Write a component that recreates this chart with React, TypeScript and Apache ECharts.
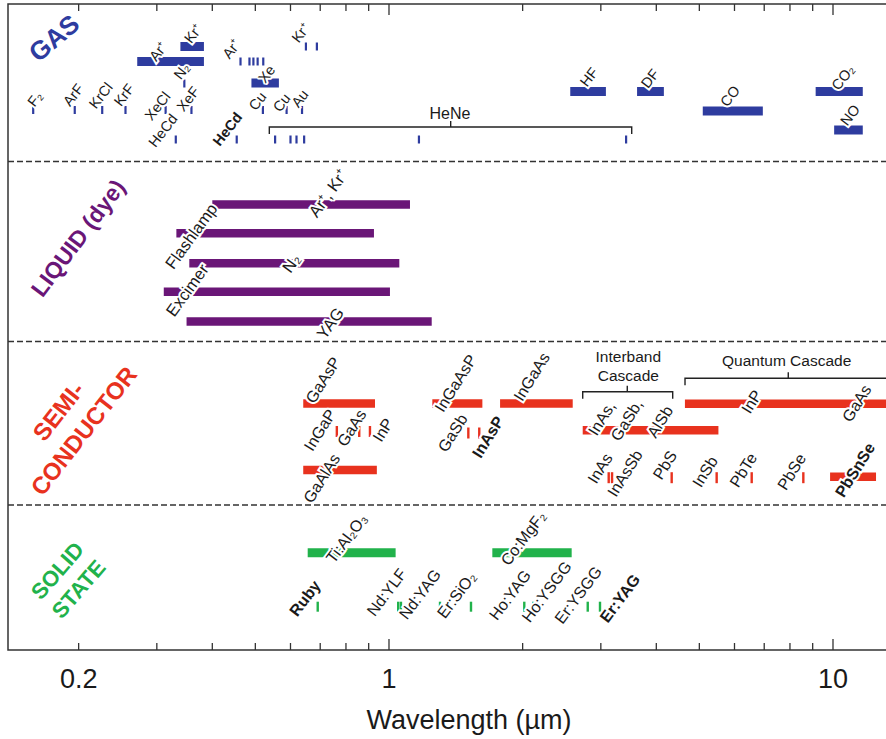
import React, { useEffect, useRef } from 'react';
import * as echarts from 'echarts';

// ---------- axis ----------
const X_MIN = 0.13865;
const X_MAX = 14.155;
const Y_TOP = 4;
const Y_BOTTOM = 650;
const AXIS_TICKS = [0.2, 0.3, 0.4, 0.5, 0.6, 0.7, 0.8, 0.9, 1, 2, 3, 4, 5, 6, 7, 8, 9, 10];
const MAJOR_TICKS = [1, 10];
const TICK_LABELS = [0.2, 1, 10];
const SEPARATORS = [161.5, 341.5, 505];

// ---------- GAS ----------
// [start µm, end µm, row]
const GAS_BARS: [number, number, number][] = [
  [0.271, 0.383, 61.5], [0.339, 0.383, 46.5], [0.49, 0.565, 83],
  [2.56, 3.08, 91.5], [3.62, 4.16, 91.5], [5.09, 6.95, 111],
  [9.14, 11.67, 91.5], [10.06, 11.67, 130],
];
// [µm, row]
const GAS_LINES: [number, number][] = [
  [0.158, 110], [0.196, 110], [0.226, 110], [0.255, 110], [0.314, 110], [0.359, 110],
  [0.52, 110], [0.588, 110], [0.637, 110],
  [0.346, 83.5],
  [0.463, 61.5], [0.485, 61.5], [0.495, 61.5], [0.506, 61.5], [0.521, 61.5],
  [0.65, 46.5], [0.688, 46.5],
  [0.331, 139.5], [0.454, 139.5],
  [0.554, 139.5], [0.6, 139.5], [0.619, 139.5], [0.644, 139.5], [1.168, 139.5], [3.42, 139.5],
];
// [text, µm, row]
const GAS_LABELS: [string, number, number][] = [
  ['F₂', 0.1595, 99], ['ArF', 0.1945, 95], ['KrCl', 0.2243, 95.5], ['KrF', 0.2532, 95],
  ['XeCl', 0.3011, 106], ['XeF', 0.3526, 99], ['N₂', 0.3412, 71], ['Ar⁺', 0.3023, 51.5],
  ['Kr⁺', 0.3624, 33.5], ['Ar⁺', 0.442, 49], ['Kr⁺', 0.6327, 33], ['Xe', 0.5303, 74],
  ['Cu', 0.5056, 101], ['Cu', 0.5731, 102.5], ['Au', 0.6301, 98.5], ['HeCd', 0.3097, 130.5],
  ['HeCd', 0.4327, 129], ['HF', 2.821, 77], ['DF', 3.872, 78.5], ['CO', 5.861, 96],
  ['CO₂', 10.53, 77.5], ['NO', 10.92, 115],
];
// [start, end, centre, row]
const GAS_BRACKETS: [number, number, number, number][] = [[0.5376, 3.521, 1.377, 127]];
const GAS_TEXTS: [string, number, number][] = [['HeNe', 1.372, 113]];

// ---------- LIQUID (dye) ----------
const DYE_BARS: [number, number, number][] = [
  [0.4, 1.115, 204.5], [0.332, 0.925, 233.3], [0.355, 1.055, 263.3],
  [0.311, 1.005, 291.8], [0.35, 1.248, 321.5],
];
const DYE_LABELS: [string, number, number][] = [
  ['Ar⁺, Kr⁺', 0.7289, 193], ['Flashlamp', 0.3582, 236], ['N₂', 0.6014, 263],
  ['Excimer', 0.3508, 290], ['YAG', 0.7364, 323],
];

// ---------- SEMICONDUCTOR ----------
const SEMI_BARS: [number, number, number][] = [
  [0.641, 0.93, 403.5], [1.252, 1.623, 403.5], [1.779, 2.593, 403.5], [4.64, 20, 403.8],
  [2.731, 5.52, 430.2], [0.641, 0.939, 470], [9.85, 12.5, 476.7],
];
const SEMI_LINES: [number, number][] = [
  [0.763, 431.5], [0.857, 431.5], [0.906, 431.5], [1.509, 433], [1.597, 433],
  [3.125, 477.7], [3.18, 477.7], [4.332, 477.7], [5.47, 477.7], [6.56, 477.7], [8.574, 477.7],
];
const SEMI_LABELS: [string, number, number][] = [
  ['GaAsP', 0.7101, 380], ['InGaP', 0.6991, 430], ['GaAs', 0.824, 428], ['InP', 0.9694, 430],
  ['GaAlAs', 0.7053, 478.3], ['InGaAsP', 1.413, 383.3], ['GaSb', 1.391, 433], ['InAsP', 1.671, 437],
  ['InGaAs', 2.096, 376.7], ['InAs,', 3.013, 418.3], ['GaSb,', 3.431, 420], ['AlSb', 4.077, 421.7],
  ['InP', 6.56, 401.7], ['GaAs', 11.31, 403.3], ['InAs', 2.987, 468.3], ['InAsSb', 3.4, 473.3],
  ['PbS', 4.183, 465], ['InSb', 5.148, 471.7], ['PbTe', 6.281, 470], ['PbSe', 8.072, 471.7],
  ['PbSnSe', 11.21, 470],
];
const SEMI_BRACKETS: [number, number, number, number][] = [
  [2.731, 4.355, 3.441, 391.7], [4.642, 20, 7.93, 378.3],
];
const SEMI_TEXTS: [string, number, number][] = [
  ['Interband\nCascade', 3.459, 366], ['Quantum Cascade', 7.865, 360.7],
];

// ---------- SOLID STATE ----------
const SOLID_BARS: [number, number, number][] = [[0.656, 1.035, 552.8], [1.709, 2.579, 552.8]];
const SOLID_LINES: [number, number][] = [
  [0.691, 606.7], [1.049, 606.7], [1.064, 606.7], [1.303, 606.7], [1.53, 606.7],
  [2.017, 606.7], [2.114, 606.7], [2.803, 606.7], [2.987, 606.7],
];
const SOLID_LABELS: [string, number, number][] = [
  ['Ti:Al₂O₃', 0.8028, 538.3], ['Co:MgF₂', 2.006, 538.3], ['Ruby', 0.6467, 598.3],
  ['Nd:YLF', 0.9881, 592.3], ['Nd:YAG', 1.174, 594.3], ['Er:SiO₂', 1.42, 595],
  ['Ho:YAG', 1.873, 595], ['Ho:YSGG', 2.266, 591.7], ['Er:YSGG', 2.669, 595],
  ['Er:YAG', 3.314, 598.3],
];

const BOLD_LABELS = new Set(['HeCd@0.4327', 'InAsP@1.671', 'PbSnSe@11.21', 'Ruby@0.6467', 'Er:YAG@3.314']);

const FONT = "'Liberation Sans', Arial, Helvetica, sans-serif";
const BLUE = '#2e3c9f';
const PURPLE = '#6a1677';
const RED = '#e8321e';
const GREEN = '#21b24b';
const INK = '#1a1a1a';
const deg = (d: number) => (d * Math.PI) / 180;

function barSeries(data: [number, number, number][], color: string, h: number) {
  return {
    type: 'custom', coordinateSystem: 'cartesian2d', z: 2,
    data: data.map((d) => [d[0], d[1], d[2]]),
    encode: { x: [0, 1], y: 2 },
    renderItem: (params: any, api: any) => {
      const p0 = api.coord([api.value(0), api.value(2)]);
      const p1 = api.coord([api.value(1), api.value(2)]);
      const cs = params.coordSys;
      const x1 = Math.min(p1[0], cs.x + cs.width);
      return { type: 'rect', shape: { x: p0[0], y: p0[1] - h / 2, width: x1 - p0[0], height: h }, style: { fill: color } };
    },
  };
}

function lineSeries(data: [number, number][], color: string, w: number, h: number) {
  return {
    type: 'custom', coordinateSystem: 'cartesian2d', z: 2,
    data: data.map((d) => [d[0], d[1]]),
    encode: { x: 0, y: 1 },
    renderItem: (params: any, api: any) => {
      const p = api.coord([api.value(0), api.value(1)]);
      return { type: 'rect', shape: { x: p[0] - w / 2, y: p[1] - h / 2, width: w, height: h }, style: { fill: color } };
    },
  };
}

function labelSeries(data: [string, number, number][], size: number, rot: number) {
  return {
    type: 'custom', coordinateSystem: 'cartesian2d', z: 5,
    data: data.map((d) => [d[1], d[2]]),
    encode: { x: 0, y: 1 },
    renderItem: (params: any, api: any) => {
      const l = data[params.dataIndex];
      const p = api.coord([api.value(0), api.value(1)]);
      const bold = BOLD_LABELS.has(l[0] + '@' + l[1]);
      return {
        type: 'text', x: p[0], y: p[1], rotation: deg(rot),
        style: {
          text: l[0], fill: INK, fontSize: size, fontFamily: FONT, fontWeight: bold ? 'bold' : 'normal',
          align: 'center', verticalAlign: 'middle', stroke: '#fff', lineWidth: 4,
        },
      };
    },
  };
}

function textSeries(data: [string, number, number][], size: number) {
  return {
    type: 'custom', coordinateSystem: 'cartesian2d', z: 5,
    data: data.map((d) => [d[1], d[2]]),
    encode: { x: 0, y: 1 },
    renderItem: (params: any, api: any) => {
      const l = data[params.dataIndex];
      const p = api.coord([api.value(0), api.value(1)]);
      return {
        type: 'text', x: p[0], y: p[1],
        style: { text: l[0], fill: INK, fontSize: size, fontFamily: FONT, align: 'center', verticalAlign: 'middle', lineHeight: 19 },
      };
    },
  };
}

function bracketSeries(data: [number, number, number, number][]) {
  return {
    type: 'custom', coordinateSystem: 'cartesian2d', z: 4,
    data: data.map((d) => [d[0], d[1], d[2], d[3]]),
    encode: { x: [0, 1, 2], y: 3 },
    renderItem: (params: any, api: any) => {
      const y = api.value(3);
      const a = api.coord([api.value(0), y]);
      const b = api.coord([api.value(1), y]);
      const m = api.coord([api.value(2), y]);
      const st = { stroke: '#222', lineWidth: 1.4, fill: null };
      return {
        type: 'group',
        children: [
          { type: 'polyline', shape: { points: [[a[0], a[1] + 7], [a[0], a[1]], [b[0], b[1]], [b[0], b[1] + 7]] }, style: st },
          { type: 'line', shape: { x1: m[0], y1: m[1], x2: m[0], y2: m[1] - 6 }, style: st },
        ],
      };
    },
  };
}

export default function App() {
  const ref = useRef<HTMLDivElement>(null);
  useEffect(() => {
    if (!ref.current) return;
    const chart = echarts.init(ref.current, undefined, { renderer: 'svg' });
    const option: any = {
      animation: false,
      backgroundColor: '#fff',
      grid: { left: 8, right: 0, top: Y_TOP, bottom: 739 - Y_BOTTOM, show: true, borderColor: '#333', borderWidth: 1.5, backgroundColor: 'transparent' },
      xAxis: {
        type: 'log', min: X_MIN, max: X_MAX, logBase: 10,
        axisLine: { show: false, onZero: false }, axisTick: { show: false }, axisLabel: { show: false }, splitLine: { show: false },
      },
      yAxis: {
        type: 'value', min: Y_TOP, max: Y_BOTTOM, inverse: true,
        axisLine: { show: false }, axisTick: { show: false }, axisLabel: { show: false }, splitLine: { show: false },
      },
      series: [
        // separators
        {
          type: 'custom', coordinateSystem: 'cartesian2d', z: 1,
          data: SEPARATORS.map((y) => [1, y]), encode: { x: 0, y: 1 },
          renderItem: (params: any, api: any) => {
            const p = api.coord([api.value(0), api.value(1)]);
            const cs = params.coordSys;
            return { type: 'line', shape: { x1: cs.x, y1: p[1], x2: cs.x + cs.width, y2: p[1] }, style: { stroke: '#333', lineWidth: 1.5, lineDash: [6, 3] } };
          },
        },
        // axis ticks (bottom and top, pointing inward)
        {
          type: 'custom', coordinateSystem: 'cartesian2d', z: 6,
          data: AXIS_TICKS.map((v) => [v, 300]), encode: { x: 0, y: 1 },
          renderItem: (params: any, api: any) => {
            const v = api.value(0);
            const x = api.coord([v, 300])[0];
            const cs = params.coordSys;
            const len = MAJOR_TICKS.indexOf(v) >= 0 ? 11 : 7;
            const yb = cs.y + cs.height;
            const yt = cs.y;
            const st = { stroke: '#333', lineWidth: 1.3 };
            return {
              type: 'group',
              children: [
                { type: 'line', shape: { x1: x, y1: yb, x2: x, y2: yb - len }, style: st },
                { type: 'line', shape: { x1: x, y1: yt, x2: x, y2: yt + len }, style: st },
              ],
            };
          },
        },
        // axis labels
        {
          type: 'custom', coordinateSystem: 'cartesian2d', z: 6,
          data: TICK_LABELS.map((v) => [v, 300]), encode: { x: 0, y: 1 },
          renderItem: (params: any, api: any) => {
            const v = api.value(0);
            const x = api.coord([v, 300])[0];
            const cs = params.coordSys;
            return {
              type: 'text', x, y: cs.y + cs.height + 15,
              style: { text: String(v), fill: INK, fontSize: 27, fontFamily: FONT, align: 'center', verticalAlign: 'top' },
            };
          },
        },
        barSeries(GAS_BARS, BLUE, 9),
        lineSeries(GAS_LINES, BLUE, 2.2, 8),
        bracketSeries(GAS_BRACKETS),
        textSeries(GAS_TEXTS, 16),
        labelSeries(GAS_LABELS, 14.5, 52),
        barSeries(DYE_BARS, PURPLE, 8.5),
        labelSeries(DYE_LABELS, 16.5, 54),
        barSeries(SEMI_BARS, RED, 8.5),
        lineSeries(SEMI_LINES, RED, 2.4, 11),
        bracketSeries(SEMI_BRACKETS),
        textSeries(SEMI_TEXTS, 15.5),
        labelSeries(SEMI_LABELS, 16, 58),
        barSeries(SOLID_BARS, GREEN, 9),
        lineSeries(SOLID_LINES, GREEN, 2.4, 10),
        labelSeries(SOLID_LABELS, 16, 53),
      ],
      graphic: [
        { type: 'text', x: 54, y: 38, rotation: deg(40), z: 10,
          style: { text: 'GAS', fill: BLUE, fontSize: 26, fontWeight: 'bold', fontFamily: FONT, align: 'center', verticalAlign: 'middle', textAlign: 'center', textVerticalAlign: 'middle' } },
        { type: 'text', x: 78, y: 238, rotation: deg(53), z: 10,
          style: { text: 'LIQUID (dye)', fill: PURPLE, fontSize: 23, fontWeight: 'bold', fontFamily: FONT, align: 'center', verticalAlign: 'middle', textAlign: 'center', textVerticalAlign: 'middle' } },
        { type: 'text', x: 71, y: 421, rotation: deg(52), z: 10,
          style: { text: 'SEMI-\nCONDUCTOR', fill: RED, fontSize: 24, fontWeight: 'bold', fontFamily: FONT, lineHeight: 32, align: 'center', verticalAlign: 'middle', textAlign: 'center', textVerticalAlign: 'middle' } },
        { type: 'text', x: 68, y: 580, rotation: deg(49), z: 10,
          style: { text: 'SOLID\nSTATE', fill: GREEN, fontSize: 22, fontWeight: 'bold', fontFamily: FONT, lineHeight: 28, align: 'center', verticalAlign: 'middle', textAlign: 'center', textVerticalAlign: 'middle' } },
        { type: 'text', x: 469, y: 720, z: 10,
          style: { text: 'Wavelength (µm)', fill: INK, fontSize: 27, fontFamily: FONT, align: 'center', verticalAlign: 'middle', textAlign: 'center', textVerticalAlign: 'middle' } },
      ],
    };
    chart.setOption(option);
    return () => chart.dispose();
  }, []);
  return (
    <div style={{ position: 'absolute', left: 0, top: 0, width: 886, height: 739, overflow: 'hidden', background: '#fff' }}>
      <div ref={ref} style={{ width: 900, height: 739 }} />
    </div>
  );
}
